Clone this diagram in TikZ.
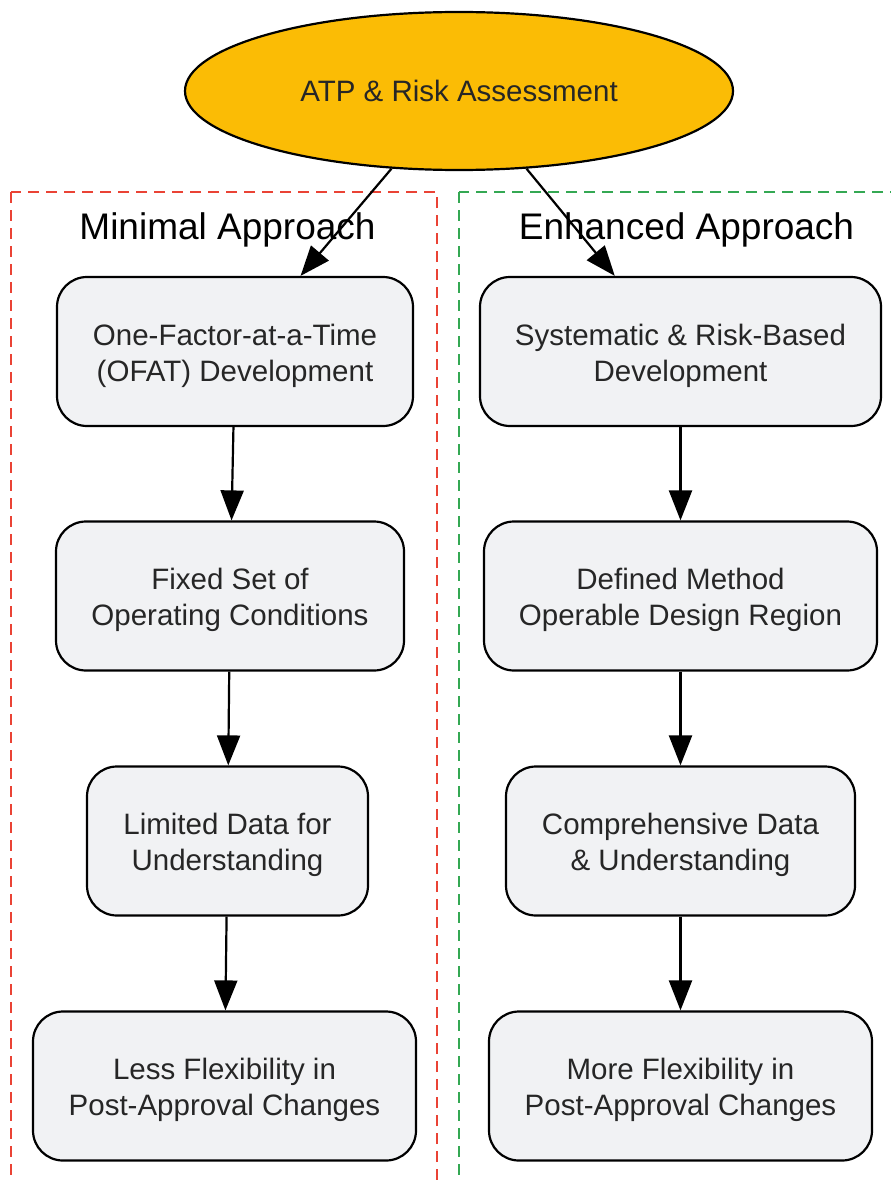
\documentclass[tikz,border=0pt]{standalone}
\usepackage{fontspec}
\setmainfont{Liberation Sans}
\usetikzlibrary{arrows.meta,calc,shapes.geometric}
\definecolor{boxfill}{HTML}{F1F2F4}
\definecolor{topfill}{HTML}{FBBC05}
\definecolor{redc}{HTML}{EA4335}
\definecolor{greenc}{HTML}{34A853}
\definecolor{txt}{HTML}{262626}
\tikzset{
  stepbox/.style={draw=black, line width=2.2pt, fill=boxfill, rounded corners=30pt, minimum height=149pt, inner sep=0pt},
  steptext/.style={align=center, inner sep=0pt, text=txt, font=\fontsize{29.5}{36}\selectfont, yshift=-4pt},
  arr/.style={line width=2.2pt, -{Triangle[length=30pt,width=23pt]}},
  clusterbox/.style={line width=2pt, dash pattern=on 11pt off 7pt},
  ctitle/.style={font=\fontsize{37}{44}\selectfont, text=black}
}
\begin{document}
\begin{tikzpicture}[x=1pt,y=-1pt]
\useasboundingbox (0,0) rectangle (891,1180);
\clip (0,0) rectangle (891,1180);
\fill[white] (0,0) rectangle (891,1180);
% clusters
\draw[clusterbox, draw=redc] (11,192) rectangle (437,1220);
\draw[clusterbox, draw=greenc] (459,192) rectangle (930,1220);
\node[ctitle] (tl) at (227.5,230) {Minimal Approach};
\node[ctitle] (tr) at (686.5,230) {Enhanced Approach};
% top
\node[ellipse, draw=black, line width=2.2pt, fill=topfill, minimum width=548pt, minimum height=158pt, inner sep=0pt, text=txt, font=\fontsize{29.5}{36}\selectfont] (top) at (459,91) {ATP \& Risk Assessment};
% left
\node[stepbox, minimum width=356pt, label={[steptext]center:One-Factor-at-a-Time\\(OFAT) Development}] (l1) at (235,351.5) {};
\node[stepbox, minimum width=348pt, label={[steptext]center:Fixed Set of\\Operating Conditions}] (l2) at (230,596) {};
\node[stepbox, minimum width=281pt, label={[steptext]center:Limited Data for\\Understanding}] (l3) at (227.5,841) {};
\node[stepbox, minimum width=383pt, label={[steptext]center:Less Flexibility in\\Post-Approval Changes}] (l4) at (224.5,1086) {};
% right
\node[stepbox, minimum width=401pt, label={[steptext]center:Systematic \& Risk-Based\\Development}] (r1) at (680.5,351.5) {};
\node[stepbox, minimum width=393pt, label={[steptext]center:Defined Method\\Operable Design Region}] (r2) at (680.5,596) {};
\node[stepbox, minimum width=349pt, label={[steptext]center:Comprehensive Data\\\& Understanding}] (r3) at (680.5,841) {};
\node[stepbox, minimum width=383pt, label={[steptext]center:More Flexibility in\\Post-Approval Changes}] (r4) at (680.5,1086) {};
% arrows
\draw[arr] (top.229) -- ($(l1.north west)!0.683!(l1.north east)$);
\draw[arr] (top.311) -- ($(r1.north west)!0.337!(r1.north east)$);
\draw[arr] (l1) -- (l2);
\draw[arr] (l2) -- (l3);
\draw[arr] (l3) -- (l4);
\draw[arr] (r1) -- (r2);
\draw[arr] (r2) -- (r3);
\draw[arr] (r3) -- (r4);
\end{tikzpicture}
\end{document}
